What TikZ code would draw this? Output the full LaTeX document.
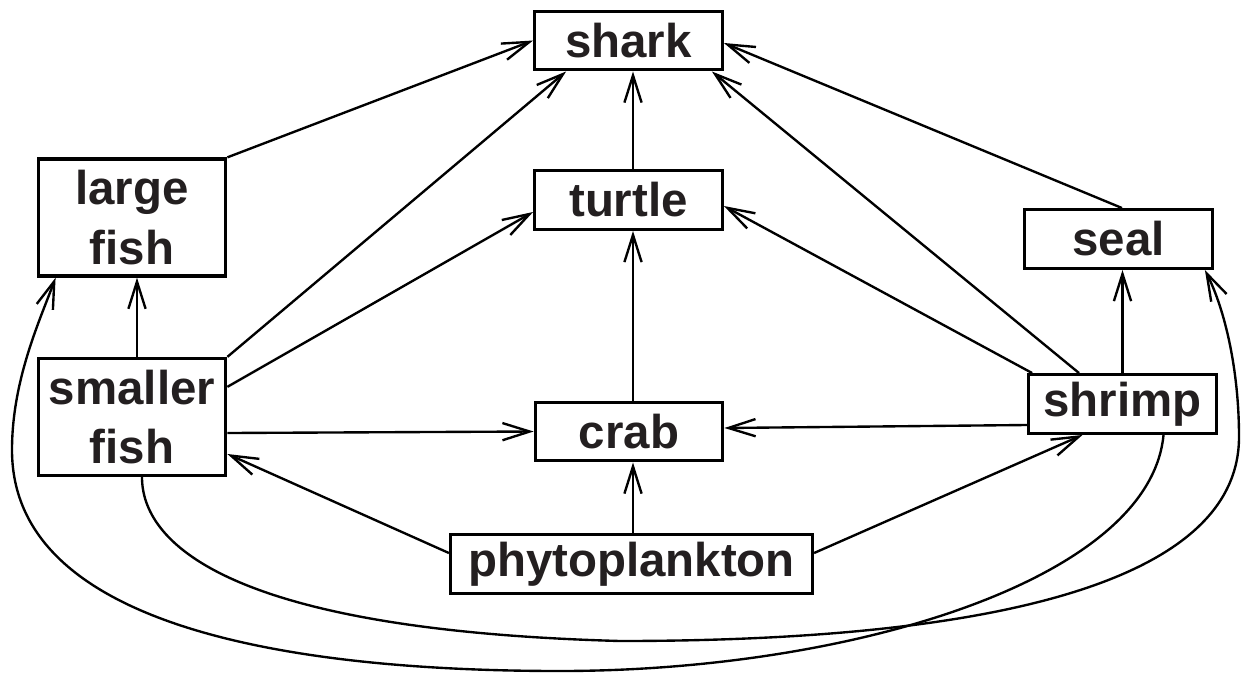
\documentclass[tikz,border=0pt]{standalone}
\usepackage{fontspec}
\setmainfont{Liberation Sans}
\usetikzlibrary{arrows.meta,calc}
\definecolor{ink}{HTML}{231F20}
\begin{document}
\begin{tikzpicture}[x=0.02cm,y=-0.02cm,
  box/.style={draw=black,line width=1.9pt,minimum width=3.75cm,minimum height=1.172cm,
    inner sep=1pt,align=center,text=ink,font=\fontsize{27pt}{34pt}\selectfont\bfseries},
  tall/.style={minimum height=2.34cm},
  wide/.style={minimum width=7.24cm},
  link/.style={line width=1.35pt,-{Straight Barb[length=15.5pt,width=9.8pt]}}]
\useasboundingbox (0,0) rectangle (1241,673);

% food-web members
\node[box]       (shark)  at (628.5,40.5) {shark};
\node[box]       (turtle) at (628.5,200)  {turtle};
\node[box]       (crab)   at (629,431.5)  {crab};
\node[box,wide]  (phyto)  at (631.5,564)  {phytoplankton};
\node[box,tall]  (lfish)  at (132,217.5)  {large\\fish};
\node[box,tall]  (sfish)  at (132,417)    {smaller\\fish};
\node[box]       (seal)   at (1118.5,239) {seal};
\node[box]       (shrimp) at (1122.5,404) {shrimp};

% columns for the vertical links
\coordinate (vx) at (633,0);
\coordinate (lx) at (137,0);

% straight links: prey -> predator
\draw[link] (lfish.north east) -- (shark.west);
\draw[link] (sfish.north east) -- ($(shark.south west)+(33,0)$);
\draw[link] ($(sfish.north east)+(0,30)$) -- ($(turtle.west)+(0,12)$);
\draw[link] ($(sfish.east)+(0,16)$) -- (crab.west);
\draw[link] (sfish.north -| lx) -- (lfish.south -| lx);
\draw[link] (turtle.north -| vx) -- (shark.south -| vx);
\draw[link] (crab.north -| vx) -- (turtle.south -| vx);
\draw[link] (phyto.north -| vx) -- (crab.south -| vx);
\draw[link] ($(phyto.west)+(0,-11)$) -- ($(sfish.east)+(0,37)$);
\draw[link] ($(phyto.east)+(0,-11)$) -- ($(shrimp.south)+(-40,0)$);
\draw[link] ($(shrimp.west)+(0,21)$) -- ($(crab.east)+(0,-3.5)$);
\draw[link] ($(shrimp.north west)+(5,0)$) -- ($(turtle.east)+(0,6)$);
\draw[link] ($(shrimp.north)+(-43.5,0)$) -- ($(shark.south east)+(-12,0)$);
\draw[link] (shrimp.north) -- (seal.south -| shrimp.north);
\draw[link] ($(seal.north)+(3.5,0)$) -- ($(shark.east)+(0,2.5)$);

% long curved links under the web
\draw[link] ($(sfish.south)+(10,0)$)
  .. controls (142,540) and (220,630) .. (620,641)
  .. controls (1000,641) and (1239,580) .. (1239,437)
  .. controls (1239,370) and (1225,310) .. ($(seal.south east)+(-9,0)$);
\draw[link] ($(shrimp.south)+(41,0)$)
  .. controls (1150,580) and (850,671) .. (560,671)
  .. controls (300,671) and (12,630) .. (12,450)
  .. controls (12,380) and (40,320) .. ($(lfish.south west)+(19,0)$);
\end{tikzpicture}
\end{document}
